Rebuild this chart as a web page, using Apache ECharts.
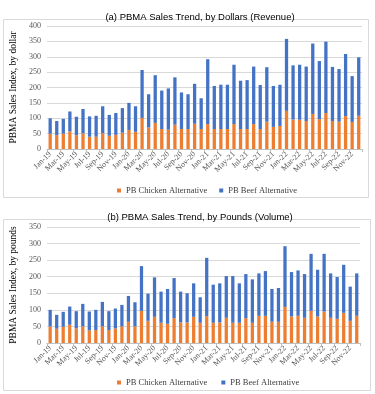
<!DOCTYPE html>
<html>
<head>
<meta charset="utf-8">
<script src="https://cdn.jsdelivr.net/npm/echarts@6/dist/echarts.min.js"></script>
<style>
  html, body { margin: 0; padding: 0; background: #fff; }
  #main { width: 375px; height: 394px; }
</style>
</head>
<body>
<div id="main"></div>
<script>
// months Jan-19 .. Dec-22
const months = ['Jan-19','Feb-19','Mar-19','Apr-19','May-19','Jun-19','Jul-19','Aug-19','Sep-19','Oct-19','Nov-19','Dec-19',
  'Jan-20','Feb-20','Mar-20','Apr-20','May-20','Jun-20','Jul-20','Aug-20','Sep-20','Oct-20','Nov-20','Dec-20',
  'Jan-21','Feb-21','Mar-21','Apr-21','May-21','Jun-21','Jul-21','Aug-21','Sep-21','Oct-21','Nov-21','Dec-21',
  'Jan-22','Feb-22','Mar-22','Apr-22','May-22','Jun-22','Jul-22','Aug-22','Sep-22','Oct-22','Nov-22','Dec-22'];

// (a) dollars
const dollarChicken = [50,45,50,57,45,51,40,40,51,43,46,53, 62,56,101,70,85,65,63,79,65,65,82,65,
  81,65,65,65,81,65,65,81,65,89,72,75, 124,96,95,91,114,97,117,91,89,107,88,108];
const dollarBeef = [50,46,48,65,60,79,66,68,88,68,71,80, 88,83,156,108,155,125,134,154,119,113,130,100,
  211,140,144,144,193,157,159,187,143,177,133,134, 234,176,179,177,229,189,232,176,171,202,149,190];

// (b) pounds
const poundChicken = [50,43,49,55,44,50,38,39,50,39,44,50, 64,50,97,67,79,61,58,75,62,62,79,61,
  81,61,62,76,61,61,75,61,82,82,64,64, 109,80,82,76,97,80,95,76,73,91,67,82];
const poundBeef = [50,42,45,55,52,68,57,61,74,57,60,65, 78,73,135,82,119,94,105,121,93,88,101,77,
  176,115,118,126,141,119,133,131,128,135,99,102, 183,134,137,132,172,141,174,134,126,145,103,128];

const dollarTicks = [0, 400, 50];
const poundTicks = [0, 350, 50];

const serif = '"Liberation Serif", "Times New Roman", serif';
const sans = '"Liberation Sans", Arial, sans-serif';
const orange = '#ED7D31';
const blue = '#4472C4';

const myChart = echarts.init(document.getElementById('main'));

function xAxisFor(gridIndex) {
  return {
    type: 'category',
    gridIndex: gridIndex,
    data: months,
    axisLine: { lineStyle: { color: '#bfbfbf', width: 1 } },
    axisTick: { show: true, interval: 1, length: 3, lineStyle: { color: '#bfbfbf' } },
    axisLabel: {
      interval: 1,
      rotate: 45,
      margin: 4,
      fontSize: 8,
      fontFamily: serif,
      color: '#595959'
    }
  };
}

function yAxisFor(gridIndex, ticks, name) {
  return {
    type: 'value',
    gridIndex: gridIndex,
    min: ticks[0],
    max: ticks[1],
    interval: ticks[2],
    name: name,
    nameLocation: 'middle',
    nameGap: 20,
    nameTextStyle: { fontSize: 9.5, fontFamily: serif, color: '#000' },
    axisLine: { show: false },
    axisTick: { show: false },
    axisLabel: { fontSize: 8, fontFamily: serif, color: '#595959', margin: 6 },
    splitLine: { lineStyle: { color: '#d9d9d9', width: 1 } }
  };
}

function barSeries(name, data, color, idx) {
  return {
    name: name,
    type: 'bar',
    stack: 'total' + idx,
    xAxisIndex: idx,
    yAxisIndex: idx,
    barWidth: '50%',
    itemStyle: { color: color },
    data: data
  };
}

const option = {
  animation: false,
  title: [
    { text: '(a) PBMA Sales Trend, by Dollars (Revenue)', left: 195, top: 7, textAlign: 'center',
      textStyle: { fontSize: 9.5, fontWeight: 'normal', fontFamily: sans, color: '#000' } },
    { text: '(b) PBMA Sales Trend, by Pounds (Volume)', left: 195, top: 207, textAlign: 'center',
      textStyle: { fontSize: 9.5, fontWeight: 'normal', fontFamily: sans, color: '#000' } }
  ],
  legend: [
    { top: 181, left: 112, itemWidth: 4, itemHeight: 4, itemGap: 12, icon: 'rect',
      textStyle: { fontSize: 8.5, fontFamily: serif, color: '#404040' },
      data: ['PB Chicken Alternative', 'PB Beef Alternative'] },
    { top: 373, left: 112, itemWidth: 4, itemHeight: 4, itemGap: 12, icon: 'rect',
      textStyle: { fontSize: 8.5, fontFamily: serif, color: '#404040' },
      data: ['PB Chicken Alternative ', 'PB Beef Alternative '] }
  ],
  graphic: [
    { type: 'rect', shape: { x: 3.5, y: 19.5, width: 365, height: 178 }, silent: true,
      style: { fill: 'none', stroke: '#d9d9d9', lineWidth: 1 } },
    { type: 'rect', shape: { x: 3.5, y: 219.5, width: 367, height: 171 }, silent: true,
      style: { fill: 'none', stroke: '#d9d9d9', lineWidth: 1 } }
  ],
  grid: [
    { left: 39, top: 26, width: 323, height: 123 },
    { left: 40, top: 227, width: 320, height: 116 }
  ],
  xAxis: [xAxisFor(0), xAxisFor(1)],
  yAxis: [
    yAxisFor(0, dollarTicks, 'PBMA Sales Index, by dollar'),
    yAxisFor(1, poundTicks, 'PBMA Sales Index, by pounds')
  ],
  series: [
    barSeries('PB Chicken Alternative', dollarChicken, orange, 0),
    barSeries('PB Beef Alternative', dollarBeef, blue, 0),
    barSeries('PB Chicken Alternative ', poundChicken, orange, 1),
    barSeries('PB Beef Alternative ', poundBeef, blue, 1)
  ]
};

myChart.setOption(option);
</script>
</body>
</html>
